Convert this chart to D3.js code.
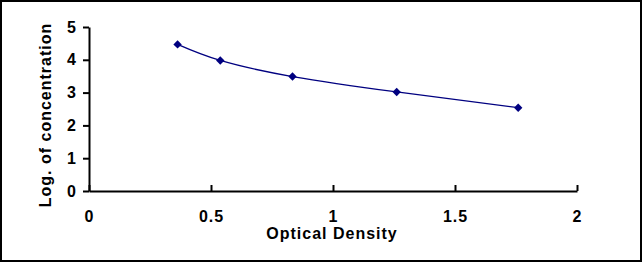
<!DOCTYPE html>
<html lang="en">
<head>
    <meta charset="UTF-8">
    <title>Standard Curve</title>
    <script src="https://cdn.jsdelivr.net/npm/d3@7"></script>
    <style>
        body { margin: 0; background: #fff; }
        svg { display: block; }
        .tick text, .title { font-family: "Liberation Sans", Arial, sans-serif; font-weight: bold; font-size: 16px; fill: #000; letter-spacing: 1px; }
    </style>
</head>
<body>
    <div id="chart"></div>
    <script>
        // readings
        var od = [0.363, 0.538, 0.834, 1.261, 1.759];
        var logConc = [4.47, 3.98, 3.49, 3.02, 2.54];
        var xTicks = [0, 0.5, 1, 1.5, 2];
        var yTicks = [0, 1, 2, 3, 4, 5];

        var W = 642, H = 262;
        var x0 = 89, x1 = 577, yTop = 27, yBot = 191;

        var svg = d3.select("#chart").append("svg")
            .attr("width", W)
            .attr("height", H);

        svg.append("rect")
            .attr("x", 1).attr("y", 1)
            .attr("width", W - 2).attr("height", H - 2)
            .attr("fill", "#fff")
            .attr("stroke", "#000")
            .attr("stroke-width", 2);

        var x = d3.scaleLinear().domain([0, 2]).range([x0, x1]);
        var y = d3.scaleLinear().domain([0, 5]).range([yBot, yTop]);

        // x axis, ticks point up into the plot
        var gx = svg.append("g")
            .attr("transform", `translate(0,${yBot})`)
            .call(d3.axisBottom(x).tickValues(xTicks).tickSizeInner(-6).tickSizeOuter(0)
                .tickFormat(d => d));
        gx.selectAll("text").attr("y", 31).attr("dy", 0);

        // y axis
        var gy = svg.append("g")
            .attr("transform", `translate(${x0},0)`)
            .call(d3.axisLeft(y).tickValues(yTicks).tickSizeInner(6).tickSizeOuter(0)
                .tickFormat(d3.format("d")));
        gy.selectAll("text").attr("x", -12);

        svg.selectAll(".domain, .tick line")
            .attr("stroke", "#000")
            .attr("stroke-width", 2);

        // fitted curve
        var pts = od.map((d, i) => [d, logConc[i]]);
        svg.append("path")
            .datum(pts)
            .attr("fill", "none")
            .attr("stroke", "#000080")
            .attr("stroke-width", 1.3)
            .attr("d", d3.line().x(d => x(d[0])).y(d => y(d[1])).curve(d3.curveNatural));

        svg.selectAll(".pt")
            .data(pts)
            .enter()
            .append("path")
            .attr("class", "pt")
            .attr("transform", d => `translate(${x(d[0])},${y(d[1])})`)
            .attr("d", d3.symbol().type(d3.symbolDiamond2).size(45))
            .attr("fill", "#000080");

        svg.append("text")
            .attr("class", "title")
            .attr("x", (x0 + x1) / 2 - 1)
            .attr("y", 239)
            .attr("text-anchor", "middle")
            .text("Optical Density");

        svg.append("text")
            .attr("class", "title")
            .attr("transform", `translate(51,${(yTop + yBot) / 2 + 6}) rotate(-90)`)
            .attr("text-anchor", "middle")
            .text("Log. of concentration");
    </script>
</body>
</html>
